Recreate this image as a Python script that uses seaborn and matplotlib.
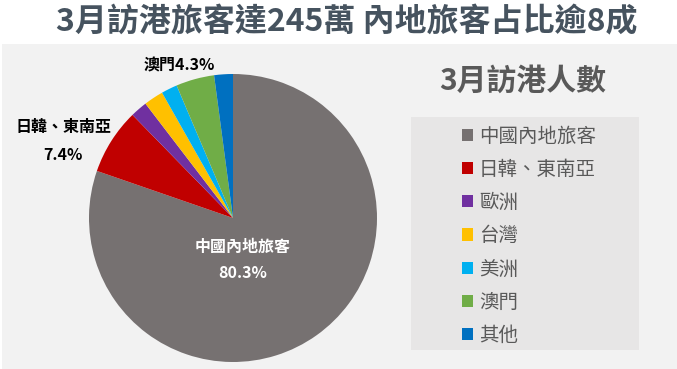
import matplotlib
matplotlib.use("Agg")
import matplotlib.pyplot as plt
from matplotlib.patches import Rectangle, Patch
import seaborn as sns

# data
regions = ['中國內地旅客', '日韓、東南亞', '歐洲', '台灣', '美洲', '澳門', '其他']
shares = [80.3, 7.4, 1.9, 2.2, 1.8, 4.3, 2.1]
colors = ['#767171', '#C00000', '#7030A0', '#FFC000', '#00B0F0', '#70AD47', '#0070C0']
title = '3月訪港旅客達245萬 內地旅客占比逾8成'
legend_title = '3月訪港人數'

sns.set_style('white')
plt.rcParams['font.family'] = ['Noto Sans CJK TC', 'DejaVu Sans']

W, H = 677, 369
fig = plt.figure(figsize=(W / 100, H / 100), dpi=100)
fig.patch.set_facecolor('white')

# grey panel behind the chart
fig.patches.append(Rectangle((2 / W, 0), 1 - 2 / W, (H - 44) / H,
                             transform=fig.transFigure, facecolor='#F2F2F2',
                             edgecolor='none', zorder=-2))
# legend box
fig.patches.append(Rectangle((411 / W, (H - 350) / H), 228 / W, 233 / H,
                             transform=fig.transFigure, facecolor='#E7E6E6',
                             edgecolor='none', zorder=-1))

fig.text(347 / W, 1 - 22 / H, title, ha='center', va='center',
         fontsize=23, fontweight='bold', color='#46535F')

# pie axes
cx, cy, r = 233, 218, 144
ax = fig.add_axes([(cx - r) / W, (H - cy - r) / H, 2 * r / W, 2 * r / H])
ax.set_facecolor('none')
ax.pie(shares, colors=colors, startangle=90, counterclock=False, radius=1,
       wedgeprops=dict(linewidth=0))
ax.set_xlim(-1, 1)
ax.set_ylim(-1, 1)
ax.set_aspect('equal')
ax.axis('off')

# slice labels
ax.text(0.07, -0.20, regions[0], ha='center', va='center', color='white',
        fontsize=11.5, fontweight='bold')
ax.text(0.07, -0.38, f'{shares[0]}%', ha='center', va='center', color='white',
        fontsize=11.5, fontweight='bold')
ax.text(-1.18, 0.63, regions[1], ha='center', va='center', color='black',
        fontsize=11.5, fontweight='bold')
ax.text(-1.18, 0.44, f'{shares[1]}%', ha='center', va='center', color='black',
        fontsize=11.5, fontweight='bold')
ax.text(-0.375, 1.06, f'{regions[5]}{shares[5]}%', ha='center', va='center',
        color='black', fontsize=11.5, fontweight='bold')

# legend
fig.text(523 / W, 1 - 81 / H, legend_title, ha='center', va='center',
         fontsize=21.5, fontweight='bold', color='#595959')
handles = [Patch(facecolor=c, edgecolor='none') for c in colors]
fig.legend(handles, regions, loc='upper left',
           bbox_to_anchor=(448 / W, 1 - 112 / H), frameon=False,
           fontsize=14, labelcolor='#595959', handlelength=0.6,
           handleheight=0.6, handletextpad=0.3, labelspacing=0.63,
           borderpad=0.2)

fig.savefig('out.png', dpi=100)
